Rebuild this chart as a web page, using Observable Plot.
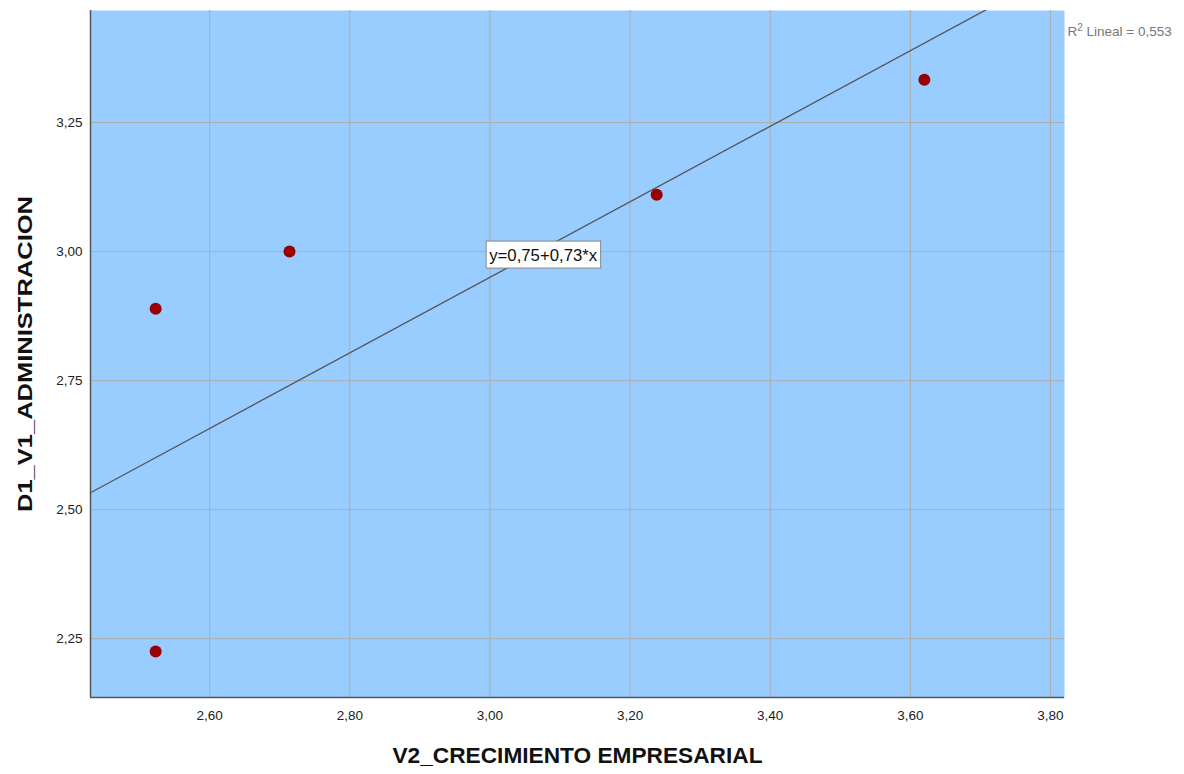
<!DOCTYPE html>
<html><head><meta charset="utf-8">
<script src="https://cdn.jsdelivr.net/npm/d3@7"></script>
<script src="https://cdn.jsdelivr.net/npm/@observablehq/plot@0.6"></script>
<style>body{margin:0;background:#fff} svg{display:block}</style>
</head><body><div id="chart"></div>
<script>
const xValues = [2.523, 2.523, 2.714, 3.238, 3.620];
const yValues = [2.889, 2.225, 3.000, 3.110, 3.333];
const xTicks = [2.6, 2.8, 3.0, 3.2, 3.4, 3.6, 3.8];
const yTicks = [2.25, 2.5, 2.75, 3.0, 3.25];
const fitIntercept = 0.754, fitSlope = 0.732;
const rSquared = 0.553;
const labelX = 3.076;
const xDomain = [2.43, 3.82];
const yDomain = [2.136, 3.467];
const xTitle = "V2_CRECIMIENTO EMPRESARIAL";
const yTitle = "D1_V1_ADMINISTRACION";

const points = xValues.map((x, i) => ({x, y: yValues[i]}));
const fit = xDomain.map(x => ({x, y: fitIntercept + fitSlope * x}));
const comma = v => d3.format(".2f")(v).replace(".", ",");
const eqText = `y=${comma(fitIntercept)}+${comma(fitSlope)}*x`;
const r2Value = d3.format(".3f")(rSquared).replace(".", ",");

const font = "'Liberation Sans', Arial, sans-serif";
const chart = Plot.plot({
  width: 1184, height: 774,
  marginLeft: 90, marginRight: 120, marginTop: 10, marginBottom: 77,
  style: {fontFamily: font, background: "#fff"},
  x: {domain: xDomain, ticks: xTicks, tickFormat: comma},
  y: {domain: yDomain, ticks: yTicks, tickFormat: comma},
  marks: [
    Plot.frame({fill: "#99ccff", stroke: "none"}),
    Plot.gridX(xTicks, {stroke: "#adadad", strokeOpacity: 1, strokeWidth: 1}),
    Plot.gridY(yTicks, {stroke: "#adadad", strokeOpacity: 1, strokeWidth: 1}),
    Plot.ruleX([xDomain[0]], {stroke: "#555", strokeWidth: 1.5}),
    Plot.ruleY([yDomain[0]], {stroke: "#555", strokeWidth: 1.5}),
    Plot.axisX({ticks: xTicks, tickFormat: comma, tickSize: 0, tickPadding: 13, fontSize: 13.5, fill: "#222", label: null}),
    Plot.axisY({ticks: yTicks, tickFormat: comma, tickSize: 0, tickPadding: 8, fontSize: 13.5, fill: "#222", label: null}),
    Plot.line(fit, {x: "x", y: "y", stroke: "#555", strokeWidth: 1.3, clip: true}),
    Plot.dot(points, {x: "x", y: "y", r: 6, fill: "#990000", stroke: "none"}),
    Plot.text([eqText], {x: labelX, y: fitIntercept + fitSlope * labelX, text: d => d, dy: 7, fontSize: 17, fill: "#111", className: "eq"}),
    Plot.text(["R"], {frameAnchor: "top-right", text: d => d, dx: 3, dy: 16, textAnchor: "start", fontSize: 13.5, fill: "#777", className: "r2"}),
    Plot.text([xTitle], {frameAnchor: "bottom", text: d => d, dy: 65, fontSize: 22, fontWeight: "bold", fill: "#111", className: "xt"}),
    Plot.text([yTitle], {frameAnchor: "left", text: d => d, dx: -65, rotate: -90, textAnchor: "middle", fontSize: 20, fontWeight: "bold", fill: "#111", className: "yt"})
  ]
});
document.getElementById("chart").appendChild(chart);
const stretch = (sel, len) => {
  const t = chart.querySelector(sel);
  if (t) { t.setAttribute("textLength", len); t.setAttribute("lengthAdjust", "spacingAndGlyphs"); }
  return t;
};
stretch("g.xt text", 370);
stretch("g.yt text", 316);
// R² label with a real superscript
const r2 = chart.querySelector("g.r2 text");
if (r2) {
  const ns = "http://www.w3.org/2000/svg";
  const sup = document.createElementNS(ns, "tspan");
  sup.setAttribute("font-size", "10"); sup.setAttribute("dy", "-5"); sup.textContent = "2";
  const rest = document.createElementNS(ns, "tspan");
  rest.setAttribute("dy", "5"); rest.textContent = ` Lineal = ${r2Value}`;
  r2.appendChild(sup); r2.appendChild(rest);
}
// white box behind the equation label
const eq = stretch("g.eq text", 108);
if (eq) {
  const b = eq.getBBox();
  const rect = document.createElementNS("http://www.w3.org/2000/svg", "rect");
  rect.setAttribute("x", b.x - 3); rect.setAttribute("y", b.y - 5);
  rect.setAttribute("width", b.width + 6); rect.setAttribute("height", b.height + 8);
  rect.setAttribute("fill", "#fff"); rect.setAttribute("stroke", "#888");
  const t = eq.getAttribute("transform");
  if (t) rect.setAttribute("transform", t);
  eq.parentNode.insertBefore(rect, eq);
}
</script>
</body></html>
